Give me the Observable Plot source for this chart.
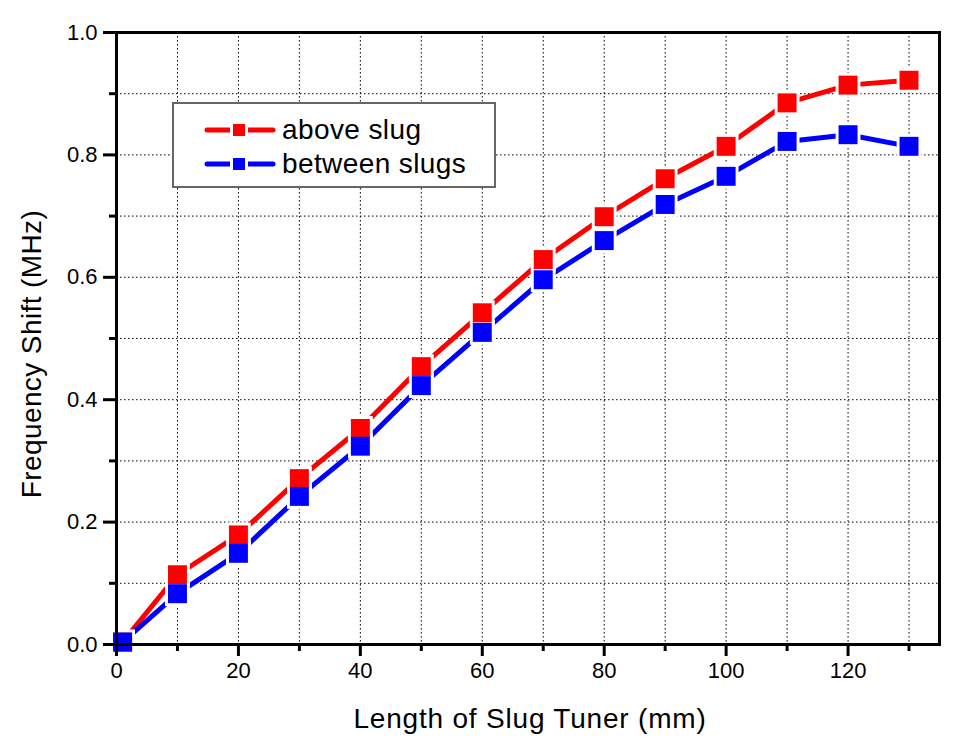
<!DOCTYPE html>
<html>
<head>
<meta charset="utf-8">
<script src="https://cdn.jsdelivr.net/npm/d3@7"></script>
<script src="https://cdn.jsdelivr.net/npm/@observablehq/plot@0.6"></script>
<style>
  html, body { margin: 0; padding: 0; background: #fff; }
  #wrap { position: relative; width: 973px; height: 755px; font-family: "Liberation Sans", Arial, sans-serif; }
  #legend { position: absolute; left: 172px; top: 102px; width: 320px; height: 82px; border: 2px solid #666; background: #fff; }
  .entry { position: absolute; left: 30px; height: 34px; display: flex; align-items: center; font-size: 28px; letter-spacing: 0.4px; color: #000; }
  .entry svg { margin-right: 6px; }
  .title { position: absolute; color: #000; white-space: nowrap; line-height: 1.15; }
  #xtitle { left: 0; width: 1060px; text-align: center; top: 703px; font-size: 28px; letter-spacing: 0.8px; }
  #ytitle { left: 32px; top: 354px; font-size: 28px; letter-spacing: 0.4px; transform: translate(-50%, -50%) rotate(-90deg); }
  #wrap svg text { font-size: 22px !important; font-family: "Liberation Sans", Arial, sans-serif; }
</style>
</head>
<body>
<div id="wrap"></div>
<script>
const lengthMM = [1, 10, 20, 30, 40, 50, 60, 70, 80, 90, 100, 110, 120, 130];
const aboveSlug = [0.004, 0.114, 0.179, 0.271, 0.353, 0.454, 0.542, 0.629, 0.699, 0.761, 0.814, 0.885, 0.914, 0.922];
const betweenSlugs = [0.004, 0.083, 0.149, 0.242, 0.324, 0.423, 0.510, 0.596, 0.660, 0.719, 0.765, 0.822, 0.833, 0.814];
const seriesNames = ["above slug", "between slugs"];
const seriesColors = ["#ff0000", "#0000ff"];
const xMajor = [0, 20, 40, 60, 80, 100, 120];
const xMinor = [10, 30, 50, 70, 90, 110, 130];
const yMajor = [0, 0.2, 0.4, 0.6, 0.8, 1.0];
const yMinor = [0.1, 0.3, 0.5, 0.7, 0.9];
const xGrid = [10, 20, 30, 40, 50, 60, 70, 80, 90, 100, 110, 120, 130];
const yGrid = [0.1, 0.2, 0.3, 0.4, 0.5, 0.6, 0.7, 0.8, 0.9];
const xTitle = "Length of Slug Tuner (mm)";
const yTitle = "Frequency Shift (MHz)";

const data = [];
[aboveSlug, betweenSlugs].forEach((vals, si) => {
  vals.forEach((v, i) => data.push({x: lengthMM[i], y: v, series: seriesNames[si]}));
});

const font = "Liberation Sans, Arial, sans-serif";
const chart = Plot.plot({
  width: 973,
  height: 755,
  marginLeft: 116,
  marginRight: 34,
  marginTop: 32,
  marginBottom: 111,
  style: {fontFamily: font, fontSize: "22px", background: "#fff", color: "#000"},
  x: {domain: [0, 135]},
  y: {domain: [0, 1]},
  color: {domain: seriesNames, range: seriesColors},
  marks: [
    Plot.ruleX(xGrid, {x: d => d, stroke: "#000", strokeWidth: 1, strokeDasharray: "1.5,2.5"}),
    Plot.ruleY(yGrid, {y: d => d, stroke: "#000", strokeWidth: 1, strokeDasharray: "1.5,2.5"}),
    Plot.line(data, {x: "x", y: "y", z: "series", stroke: "series", strokeWidth: 5}),
    Plot.dot(data, {x: "x", y: "y", symbol: "square", r: 14, fill: "#fff", stroke: "none"}),
    Plot.dot(data, {x: "x", y: "y", symbol: "square", r: 10.7, fill: "series", stroke: "none"}),
    Plot.frame({stroke: "#000", strokeWidth: 3}),
    Plot.axisX({ticks: xMajor, tickSize: 12, strokeWidth: 3, tickPadding: 6, fontSize: 22, tickFormat: d => String(d), label: null}),
    Plot.axisX({ticks: xMinor, tickSize: 7, strokeWidth: 3, tickFormat: () => "", label: null}),
    Plot.axisY({ticks: yMajor, tickSize: 13, strokeWidth: 3, tickPadding: 6, fontSize: 22, tickFormat: d3.format(".1f"), label: null}),
    Plot.axisY({ticks: yMinor, tickSize: 7, strokeWidth: 3, tickFormat: () => "", label: null})
  ]
});

const wrap = document.getElementById("wrap");
wrap.appendChild(chart);

const xt = document.createElement("div");
xt.className = "title"; xt.id = "xtitle"; xt.textContent = xTitle;
wrap.appendChild(xt);
const yt = document.createElement("div");
yt.className = "title"; yt.id = "ytitle"; yt.textContent = yTitle;
wrap.appendChild(yt);

const legend = document.createElement("div");
legend.id = "legend";
seriesNames.forEach((name, i) => {
  const e = document.createElement("div");
  e.className = "entry";
  e.style.top = (9 + i * 34) + "px";
  const svg = d3.create("svg").attr("width", 72).attr("height", 24);
  svg.append("line").attr("x1", 3).attr("x2", 69).attr("y1", 12).attr("y2", 12)
    .attr("stroke", seriesColors[i]).attr("stroke-width", 5).attr("stroke-linecap", "round");
  svg.append("rect").attr("x", 26).attr("y", 3).attr("width", 18).attr("height", 18).attr("fill", "#fff");
  svg.append("rect").attr("x", 29).attr("y", 6).attr("width", 12).attr("height", 12).attr("fill", seriesColors[i]);
  e.appendChild(svg.node());
  const t = document.createElement("span");
  t.textContent = name;
  e.appendChild(t);
  legend.appendChild(e);
});
wrap.appendChild(legend);
</script>
</body>
</html>
